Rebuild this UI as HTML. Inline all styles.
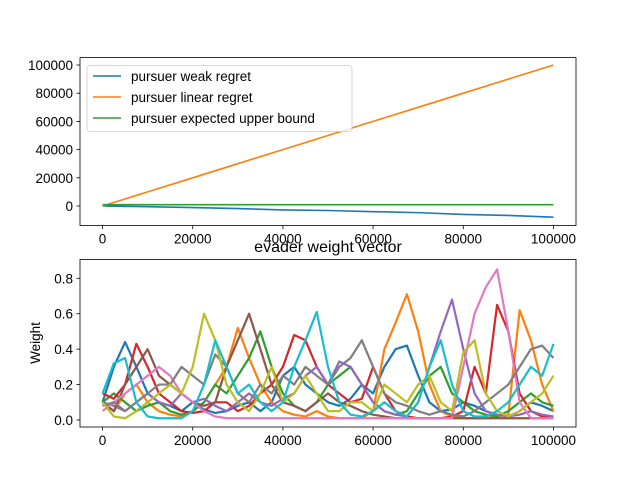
<!DOCTYPE html>
<html><head><meta charset="utf-8"><style>
body{margin:0;background:#fff}
svg text{font-family:"Liberation Sans",sans-serif;font-size:13.5px;fill:#000}
</style></head><body>
<svg id="fig" width="640" height="480" xmlns="http://www.w3.org/2000/svg">
<rect width="640" height="480" fill="#fff"/>
<g id="topchart"></g>
<g id="botchart"></g>
</svg>
<script>
const regretX=[0,10000,20000,30000,40000,50000,60000,70000,80000,90000,100000];
const weakRegret=[0,-500,-1100,-1800,-2800,-3200,-4000,-4700,-6000,-6700,-7900];
const linearRegret=[0,10000,20000,30000,40000,50000,60000,70000,80000,90000,100000];
const upperBound=[900,900,900,900,900,900,900,900,900,900,900];
const topYTicks=[0,20000,40000,60000,80000,100000];
const xTicks=[0,20000,40000,60000,80000,100000];
const weightStep=2500;
const wBlue=[0.1,0.3,0.44,0.3,0.15,0.1,0.08,0.05,0.1,0.06,0.04,0.05,0.08,0.1,0.05,0.1,0.25,0.3,0.2,0.15,0.1,0.08,0.12,0.2,0.15,0.3,0.4,0.42,0.25,0.1,0.05,0.06,0.1,0.08,0.05,0.03,0.02,0.05,0.1,0.08,0.05];
const wOrange=[0.1,0.05,0.15,0.2,0.1,0.05,0.03,0.02,0.05,0.1,0.2,0.3,0.52,0.35,0.2,0.1,0.05,0.03,0.02,0.05,0.02,0.01,0.01,0.01,0.05,0.4,0.55,0.71,0.5,0.2,0.05,0.02,0.01,0.01,0.01,0.02,0.03,0.62,0.45,0.2,0.05];
const wGreen=[0.1,0.15,0.1,0.05,0.08,0.1,0.05,0.03,0.05,0.1,0.2,0.15,0.25,0.35,0.5,0.3,0.15,0.08,0.05,0.1,0.2,0.25,0.3,0.2,0.1,0.05,0.03,0.05,0.15,0.25,0.3,0.15,0.1,0.05,0.03,0.02,0.05,0.1,0.15,0.1,0.08];
const wRed=[0.15,0.12,0.2,0.43,0.3,0.15,0.1,0.05,0.04,0.05,0.1,0.1,0.05,0.08,0.15,0.2,0.3,0.48,0.45,0.3,0.2,0.15,0.1,0.12,0.3,0.15,0.05,0.02,0.01,0.01,0.01,0.02,0.05,0.3,0.15,0.65,0.5,0.15,0.05,0.02,0.01];
const wPurple=[0.1,0.08,0.05,0.1,0.15,0.1,0.08,0.15,0.1,0.12,0.08,0.05,0.1,0.15,0.1,0.08,0.12,0.15,0.25,0.3,0.2,0.33,0.3,0.2,0.1,0.05,0.03,0.02,0.1,0.3,0.5,0.68,0.4,0.15,0.05,0.03,0.02,0.03,0.05,0.03,0.02];
const wBrown=[0.1,0.05,0.2,0.3,0.4,0.25,0.2,0.15,0.1,0.08,0.1,0.3,0.45,0.6,0.4,0.2,0.1,0.08,0.05,0.1,0.15,0.1,0.08,0.05,0.03,0.02,0.01,0.01,0.01,0.01,0.01,0.01,0.01,0.01,0.01,0.01,0.01,0.01,0.01,0.01,0.01];
const wPink=[0.05,0.1,0.15,0.2,0.25,0.3,0.25,0.15,0.1,0.05,0.02,0.01,0.01,0.01,0.01,0.01,0.01,0.01,0.01,0.01,0.01,0.01,0.01,0.01,0.01,0.01,0.01,0.01,0.01,0.01,0.01,0.01,0.3,0.6,0.75,0.85,0.5,0.1,0.01,0.01,0.01];
const wGray=[0.08,0.1,0.05,0.1,0.15,0.2,0.2,0.3,0.25,0.2,0.37,0.3,0.15,0.1,0.2,0.15,0.25,0.2,0.3,0.25,0.2,0.3,0.35,0.45,0.3,0.15,0.1,0.08,0.05,0.03,0.05,0.03,0.02,0.05,0.1,0.15,0.2,0.3,0.4,0.42,0.35];
const wOlive=[0.1,0.02,0.01,0.05,0.1,0.15,0.2,0.15,0.3,0.6,0.45,0.2,0.1,0.05,0.15,0.3,0.1,0.15,0.25,0.15,0.05,0.05,0.1,0.1,0.05,0.2,0.15,0.1,0.2,0.25,0.1,0.05,0.38,0.45,0.15,0.05,0.02,0.05,0.1,0.15,0.25];
const wCyan=[0.15,0.32,0.35,0.1,0.02,0.01,0.01,0.01,0.05,0.2,0.45,0.3,0.15,0.2,0.1,0.05,0.1,0.3,0.45,0.61,0.3,0.1,0.03,0.02,0.05,0.1,0.05,0.02,0.1,0.3,0.45,0.2,0.05,0.02,0.02,0.05,0.1,0.2,0.3,0.25,0.43];
const botYTicks=[0,0.2,0.4,0.6,0.8];

const NS="http://www.w3.org/2000/svg";
function mk(p,t,a){const e=document.createElementNS(NS,t);for(const k in a)e.setAttribute(k,a[k]);p.appendChild(e);return e;}
const L=80,R=576;
const xs=v=>L+(v+5000)/110000*(R-L);
const yTop=v=>206-v*(141/100000);
const yBot=v=>420-v*(141.7/0.8);

const topG=document.getElementById('topchart'),botG=document.getElementById('botchart');
function axes(g,y0,y1,yt,yf,fmt){
  xTicks.forEach(v=>{const x=xs(v);
    const t=mk(g,'line',{x1:x,x2:x,y1:y1,y2:y1+3.5,stroke:'#000','stroke-width':0.8});
    
    
    const l=mk(g,'text',{x:x,y:y1+18,'text-anchor':'middle'});l.textContent=v;
    
    });
  yt.forEach(v=>{const y=yf(v);
    const t=mk(g,'line',{x1:L-3.5,x2:L,y1:y,y2:y,stroke:'#000','stroke-width':0.8});
    
    
    const l=mk(g,'text',{x:L-7,y:y+5,'text-anchor':'end'});l.textContent=fmt(v);
    
    });
}
function line(g,xv,yv,yf,c,name,w){
  const pts=yv.map((v,i)=>xs(xv(i))+','+yf(v)).join(' ');
  const p=mk(g,'polyline',{points:pts,fill:'none',stroke:c,'stroke-width':w,'stroke-linejoin':'round'});
  
  
}
const tc=mk(topG,'clipPath',{id:'ct'});mk(tc,'rect',{x:L,y:57.6,width:R-L,height:168});
const tg=mk(topG,'g',{'clip-path':'url(#ct)'});
line(tg,i=>regretX[i],weakRegret,yTop,'#1f77b4','weak-regret-line',1.6);
line(tg,i=>regretX[i],linearRegret,yTop,'#ff7f0e','linear-regret-line',1.6);
line(tg,i=>regretX[i],upperBound,yTop,'#2ca02c','upper-bound-line',1.6);
const tf=mk(topG,'rect',{x:L,y:57.6,width:R-L,height:168,fill:'none',stroke:'#000','stroke-width':0.8});


axes(topG,57.6,225.6,topYTicks,yTop,v=>v);
const lg=mk(topG,'g',{});


mk(lg,'rect',{x:87,y:65.5,width:265,height:66,rx:3,fill:'#fff','fill-opacity':0.8,stroke:'#ccc','stroke-width':0.8});
[['pursuer weak regret','#1f77b4'],['pursuer linear regret','#ff7f0e'],['pursuer expected upper bound','#2ca02c']].forEach((e,i)=>{
  const y=76+i*21;
  const ent=mk(lg,'g',{});
  
  
  mk(ent,'line',{x1:93,x2:121,y1:y,y2:y,stroke:e[1],'stroke-width':1.6});
  const t=mk(ent,'text',{x:131,y:y+5});t.textContent=e[0];
});
const bc=mk(botG,'clipPath',{id:'cb'});mk(bc,'rect',{x:L,y:259.5,width:R-L,height:167.5});
const bg=mk(botG,'g',{'clip-path':'url(#cb)'});
const series=[[wBlue,'#1f77b4'],[wOrange,'#ff7f0e'],[wGreen,'#2ca02c'],[wRed,'#d62728'],[wPurple,'#9467bd'],[wBrown,'#8c564b'],[wPink,'#e377c2'],[wGray,'#7f7f7f'],[wOlive,'#bcbd22'],[wCyan,'#17becf']];
series.forEach((s,k)=>line(bg,i=>i*weightStep,s[0],yBot,s[1],'weight-line-'+k,2.2));
const bf=mk(botG,'rect',{x:L,y:259.5,width:R-L,height:167.5,fill:'none',stroke:'#000','stroke-width':0.8});


axes(botG,259.5,427,botYTicks,yBot,v=>v.toFixed(1));
const tt=mk(botG,'text',{x:328,y:252,'text-anchor':'middle',style:'font-size:16px'});tt.textContent='evader weight vector';


const yl=mk(botG,'text',{x:0,y:0,'text-anchor':'middle',transform:'translate(40,343) rotate(-90)'});yl.textContent='Weight';


</script>
</body></html>
